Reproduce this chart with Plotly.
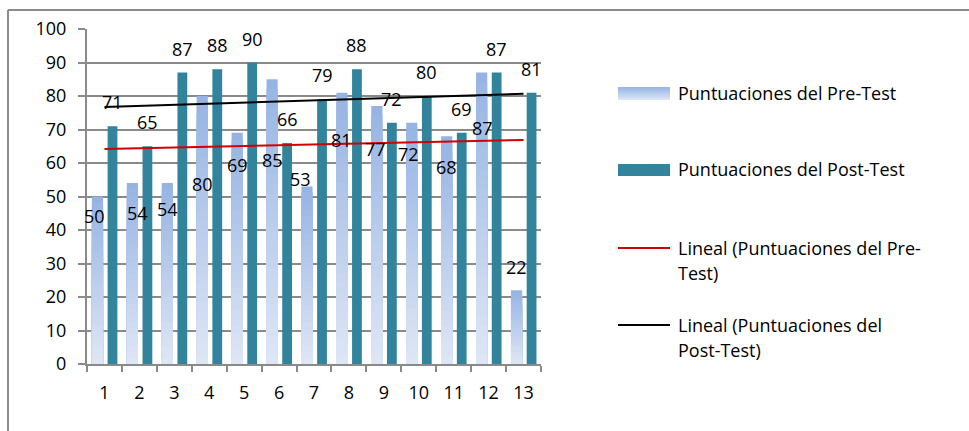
import numpy as np
import plotly.graph_objects as go

# ---------------- data ----------------
participants = list(range(1, 14))
pre_test = [50, 54, 54, 80, 69, 85, 53, 81, 77, 72, 68, 87, 22]
post_test = [71, 65, 87, 88, 90, 66, 79, 88, 72, 80, 69, 87, 81]
y_ticks = list(range(0, 101, 10))
legend_labels = [
    "Puntuaciones del Pre-Test",
    "Puntuaciones del Post-Test",
    "Lineal (Puntuaciones del Pre-Test)",
    "Lineal (Puntuaciones del Post-Test)",
]

# ---------------- layout settings ----------------
W_FIG, H_FIG = 969, 431
L, T, R_PX, B_PX = 87, 29, 541, 364          # plot area in pixels
PW, PH = R_PX - L, B_PX - T
FONT = "Open Sans"
FS = 18
GRID = "#8a8a8a"
POST_COLOR = "#31849B"
PRE_TOP = (0x95, 0xB3, 0xE3)
PRE_BOT = (0xDF, 0xE7, 0xF5)
N_SEG = 30
PRE_OFF, PRE_W = -0.36, 0.32
POST_OFF, POST_W = 0.09, 0.28

# label placement (layout, as in the source chart)
pre_label_y = [44.2, 45, 46.3, 53.7, 59.4, 60.9, 55.1, 66.9, 64.2, 62.6, 58.8, 70.5, 29]
pre_label_dx = [-3, 5, 0, 0, 0, 0, -7, 0, -1, -3, 0, 1, 0]
post_label_shift = 24


def px(x):
    return (x - L) / PW


def py(y):
    return (B_PX - y) / PH


def mix(t):
    return "rgb(%d,%d,%d)" % tuple(round(b + (a - b) * t) for a, b in zip(PRE_TOP, PRE_BOT))


x = np.array(participants, dtype=float)
pre = np.array(pre_test, dtype=float)
post = np.array(post_test, dtype=float)

fig = go.Figure()

# gradient pre-test bars: nested bars from the full height down, each a bit lighter
for k in range(N_SEG):
    frac = (N_SEG - k) / N_SEG
    t = 1 - (k + 0.5) / N_SEG
    fig.add_trace(go.Bar(
        x=x, y=pre * frac,
        offset=PRE_OFF, width=PRE_W,
        marker=dict(color=mix(t), line=dict(width=0)),
        name=legend_labels[0], showlegend=False, hoverinfo="skip" if k else None,
        customdata=pre, hovertemplate="%{customdata}<extra></extra>",
    ))

fig.add_trace(go.Bar(
    x=x, y=post, offset=POST_OFF, width=POST_W,
    marker=dict(color=POST_COLOR, line=dict(width=0)),
    name=legend_labels[1], showlegend=False,
))

# linear trendlines
xs = np.array([x.min(), x.max()])
for vals, col, nm in [(pre, "#D00000", legend_labels[2]), (post, "#000000", legend_labels[3])]:
    m, b = np.polyfit(x, vals, 1)
    fig.add_trace(go.Scatter(x=xs, y=m * xs + b, mode="lines",
                             line=dict(color=col, width=2), name=nm, showlegend=False))

annotations = []
# data labels
for i, (xi, v) in enumerate(zip(x, pre_test)):
    annotations.append(dict(x=xi + PRE_OFF + PRE_W / 2, y=pre_label_y[i], xref="x", yref="y",
                            text=str(v), showarrow=False, xshift=pre_label_dx[i],
                            font=dict(family=FONT, size=FS, color="#000")))
for xi, v in zip(x, post_test):
    annotations.append(dict(x=xi + POST_OFF + POST_W / 2, y=v, xref="x", yref="y",
                            text=str(v), showarrow=False, yshift=post_label_shift,
                            font=dict(family=FONT, size=FS, color="#000")))

# manual legend
shapes = []
sw_x0, sw_x1 = 618, 670
text_x = 676
# pre swatch (gradient, nested rects)
n_sw = 13
for k in range(n_sw):
    shapes.append(dict(type="rect", xref="paper", yref="paper",
                       x0=px(sw_x0), x1=px(sw_x1), y0=py(100), y1=py(87 + k),
                       fillcolor=mix(1 - (k + 0.5) / n_sw), line=dict(width=0)))
shapes.append(dict(type="rect", xref="paper", yref="paper",
                   x0=px(sw_x0), x1=px(sw_x1), y0=py(176), y1=py(164),
                   fillcolor=POST_COLOR, line=dict(width=0)))
shapes.append(dict(type="line", xref="paper", yref="paper",
                   x0=px(sw_x0), x1=px(sw_x1), y0=py(248), y1=py(248),
                   line=dict(color="#D00000", width=2)))
shapes.append(dict(type="line", xref="paper", yref="paper",
                   x0=px(sw_x0), x1=px(sw_x1), y0=py(325), y1=py(325),
                   line=dict(color="#000000", width=2)))

legend_lines = [
    ("Puntuaciones del Pre-Test", 93),
    ("Puntuaciones del Post-Test", 169),
    ("Lineal (Puntuaciones del Pre-", 248),
    ("Test)", 273),
    ("Lineal (Puntuaciones del", 325),
    ("Post-Test)", 350),
]
for txt, yy in legend_lines:
    annotations.append(dict(x=px(text_x), y=py(yy), xref="paper", yref="paper",
                            text=txt, showarrow=False, xanchor="left", yanchor="middle",
                            font=dict(family=FONT, size=FS, color="#000")))

# outer chart frame (top and left edges visible)
shapes.append(dict(type="line", xref="paper", yref="paper",
                   x0=px(8), x1=px(975), y0=py(10), y1=py(10),
                   line=dict(color="#8c8c8c", width=2)))
shapes.append(dict(type="line", xref="paper", yref="paper",
                   x0=px(8), x1=px(8), y0=py(10), y1=py(440),
                   line=dict(color="#8c8c8c", width=2)))

fig.update_layout(
    width=W_FIG, height=H_FIG,
    margin=dict(l=L, r=W_FIG - R_PX, t=T, b=H_FIG - B_PX),
    paper_bgcolor="white", plot_bgcolor="white",
    barmode="overlay",
    showlegend=False,
    font=dict(family=FONT, size=FS, color="#000"),
    annotations=annotations,
    shapes=shapes,
)
fig.update_xaxes(
    range=[0.5, 13.5], tickmode="array", tickvals=participants,
    ticktext=[str(p) for p in participants],
    ticks="", showgrid=False, zeroline=False,
    showline=True, linecolor=GRID, linewidth=2,
    ticklabelstandoff=11,
    minor=dict(tickmode="array", tickvals=[0.5 + i for i in range(14)],
               ticks="outside", ticklen=6, tickwidth=2, tickcolor=GRID, showgrid=False),
    tickfont=dict(family=FONT, size=FS, color="#000"),
)
fig.update_yaxes(
    range=[0, 100], tickmode="array", tickvals=y_ticks,
    showgrid=True, gridcolor=GRID, gridwidth=2, zeroline=False,
    showline=True, linecolor=GRID, linewidth=2,
    ticks="outside", ticklen=7, tickwidth=2, tickcolor=GRID,
    ticklabelstandoff=8,
    tickfont=dict(family=FONT, size=FS, color="#000"),
)

fig.write_html(
    "out.html",
    config={"displayModeBar": False},
    post_script="document.body.style.margin='0';document.body.style.overflow='hidden';",
)
